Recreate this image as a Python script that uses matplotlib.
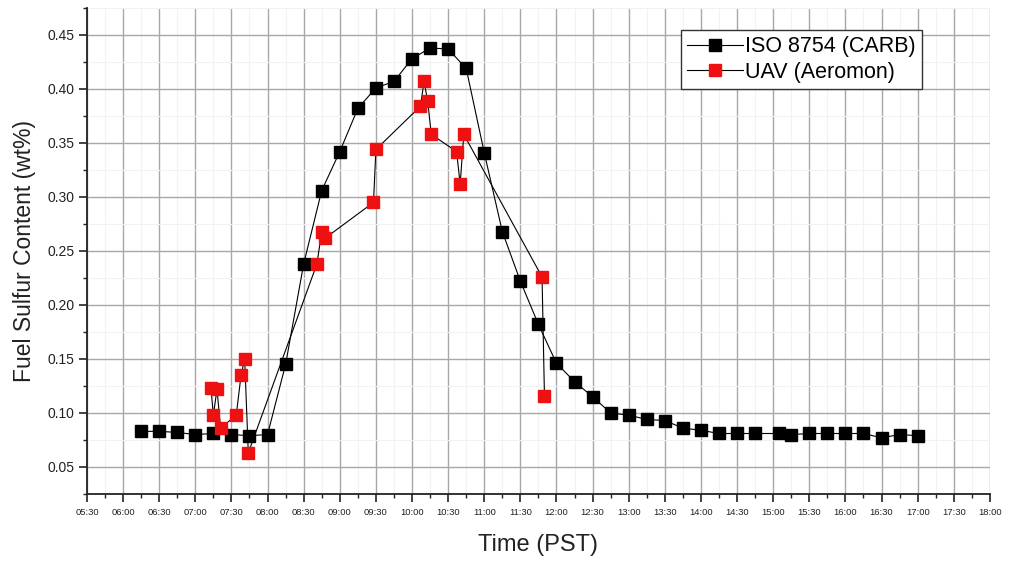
import matplotlib
matplotlib.use('Agg')
import matplotlib.pyplot as plt
from matplotlib.ticker import MultipleLocator, FuncFormatter

plt.rcParams['font.family'] = ['Liberation Sans', 'DejaVu Sans']

# ISO 8754 (CARB) - cas (HH:MM) in vsebnost zvepla (wt%)
iso_cas = ['06:15', '06:30', '06:45', '07:00', '07:15', '07:30', '07:45', '08:00',
           '08:15', '08:30', '08:45', '09:00', '09:15', '09:30', '09:45', '10:00',
           '10:15', '10:30', '10:45', '11:00', '11:15', '11:30', '11:45', '12:00',
           '12:15', '12:30', '12:45', '13:00', '13:15', '13:30', '13:45', '14:00',
           '14:15', '14:30', '14:45', '15:05', '15:15', '15:30', '15:45', '16:00',
           '16:15', '16:30', '16:45', '17:00']
iso_vrednosti = [0.083, 0.083, 0.082, 0.080, 0.081, 0.080, 0.079, 0.080,
                 0.145, 0.238, 0.306, 0.342, 0.382, 0.401, 0.407, 0.428,
                 0.438, 0.437, 0.419, 0.341, 0.268, 0.222, 0.182, 0.146,
                 0.129, 0.115, 0.100, 0.098, 0.094, 0.093, 0.086, 0.084,
                 0.081, 0.081, 0.081, 0.081, 0.080, 0.081, 0.081, 0.081,
                 0.081, 0.077, 0.080, 0.079]

# UAV (Aeromon)
uav_cas = ['07:13', '07:15', '07:18', '07:21', '07:34', '07:38', '07:41', '07:44',
           '08:41', '08:45', '08:48', '09:28', '09:30', '10:07', '10:10', '10:13',
           '10:16', '10:37', '10:40', '10:43', '11:48', '11:50']
uav_vrednosti = [0.123, 0.098, 0.122, 0.086, 0.098, 0.135, 0.150, 0.063,
                 0.238, 0.268, 0.262, 0.295, 0.344, 0.384, 0.407, 0.389,
                 0.358, 0.342, 0.312, 0.358, 0.226, 0.116]


def v_ure(cas):
    '''Pretvori niz HH:MM v ure (decimalno).'''
    h, m = cas.split(':')
    return int(h) + int(m) / 60


def oznaka_casa(x, pos):
    h = int(x)
    m = int(round((x - h) * 60))
    if m == 60:
        h, m = h + 1, 0
    return f'{h:02d}:{m:02d}'


iso_x = [v_ure(c) for c in iso_cas]
uav_x = [v_ure(c) for c in uav_cas]

fig = plt.figure(figsize=[10.1, 5.63], dpi=100)
ax = fig.add_axes([0.0861, 0.1226, 0.894, 0.8632])

ax.plot(iso_x, iso_vrednosti, color='black', linewidth=0.8, marker='s',
        markersize=8, markerfacecolor='black', markeredgecolor='black',
        label='ISO 8754 (CARB)', zorder=3)
ax.plot(uav_x, uav_vrednosti, color='black', linewidth=0.8, marker='s',
        markersize=8, markerfacecolor='#ee1111', markeredgecolor='#ee1111',
        label='UAV (Aeromon)', zorder=4)

ax.set_xlim(5.5, 18.0)
ax.set_ylim(0.025, 0.475)

ax.xaxis.set_major_locator(MultipleLocator(0.5))
ax.xaxis.set_minor_locator(MultipleLocator(0.25))
ax.xaxis.set_major_formatter(FuncFormatter(oznaka_casa))
ax.yaxis.set_major_locator(MultipleLocator(0.05))
ax.yaxis.set_minor_locator(MultipleLocator(0.025))
ax.yaxis.set_major_formatter(FuncFormatter(lambda y, p: f'{y:.2f}'))

ax.grid(which='major', color='#a8a8a8', linewidth=1.0)
ax.grid(which='minor', color='#f2f2f2', linewidth=0.8)
ax.set_axisbelow(True)

for s in ['top', 'right']:
    ax.spines[s].set_visible(False)
for s in ['left', 'bottom']:
    ax.spines[s].set_linewidth(1.3)
    ax.spines[s].set_color('#222222')

ax.tick_params(which='major', direction='out', length=6, width=1.2, colors='#222222')
ax.tick_params(which='minor', direction='out', length=3, width=1.0, colors='#222222')
ax.tick_params(axis='x', which='major', labelsize=6.8, pad=4)
ax.tick_params(axis='y', which='major', labelsize=10, pad=3)

ax.set_xlabel('Time (PST)', fontsize=17, color='#222222', labelpad=12)
ax.set_ylabel('Fuel Sulfur Content (wt%)', fontsize=16.5, color='#222222', labelpad=8)

leg = ax.legend(loc='upper right', bbox_to_anchor=(0.925, 0.955), fontsize=15.5,
                frameon=True, fancybox=False, framealpha=1, edgecolor='#333333',
                handlelength=2.6, handletextpad=0.1, borderpad=0.3,
                labelspacing=0.2, borderaxespad=0)
leg.get_frame().set_linewidth(1.0)

plt.savefig('out.png', dpi=100)
plt.close()
